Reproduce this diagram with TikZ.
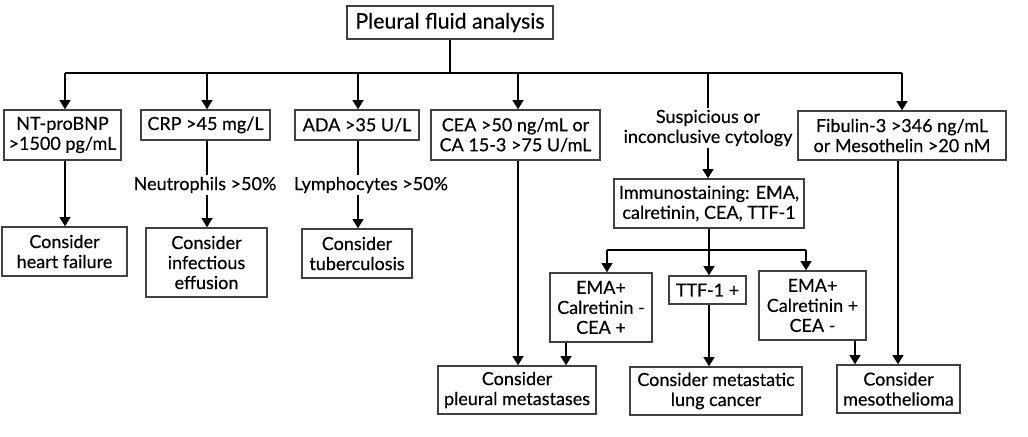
\documentclass[tikz,border=0pt]{standalone}
\usepackage{fontspec}
\setmainfont{Lato}[FakeBold=0.35]
\usetikzlibrary{arrows.meta}
\begin{document}
\begin{tikzpicture}[x=0.75pt,y=-0.75pt,
  box/.style={draw=black!75, line width=0.9pt, align=center, inner sep=0pt,
    font=\fontsize{13.5}{15}\selectfont, fill=white},
  plain/.style={align=center, inner sep=1pt, font=\fontsize{13.5}{15}\selectfont},
  conn/.style={line width=2.1pt, black},
  arr/.style={conn, -{Triangle[width=8pt,length=7pt]}}]
\useasboundingbox (0,0) rectangle (1028,436);
\fill[white] (0,0) rectangle (1028,436);
% top
\node[box, minimum width=154.5pt, minimum height=24.75pt, font=\fontsize{16}{18}\selectfont] (title) at (450,22.5) {Pleural fluid analysis};
% row 1
\node[box, minimum width=87.75pt, minimum height=37.5pt] (nt) at (62.5,135) {NT-proBNP\\>1500 pg/mL};
\node[box, minimum width=96.75pt, minimum height=22.5pt] (crp) at (205.5,125) {CRP >45 mg/L};
\node[box, minimum width=93pt, minimum height=22.5pt] (ada) at (357,125) {ADA >35 U/L};
\node[box, minimum width=126.75pt, minimum height=37.5pt] (cea) at (515.5,135) {CEA >50 ng/mL or\\CA 15-3 >75 U/mL};
\node[plain] (susp) at (708,128) {Suspicious or\\inconclusive cytology};
\node[box, minimum width=156pt, minimum height=36.75pt] (fib) at (902,135.5) {Fibulin-3 >346 ng/mL\\or Mesothelin >20 nM};
\node[box, minimum width=142.5pt, minimum height=36.75pt] (imm) at (709,203.5) {Immunostaining: EMA,\\calretinin, CEA, TTF-1};
% labels
\node[plain] (neu) at (205,185) {Neutrophils >50\%};
\node[plain] (lym) at (371,185) {Lymphocytes >50\%};
% row 2
\node[box, minimum width=93.75pt, minimum height=36.75pt] (hf) at (64.5,251.5) {Consider\\heart failure};
\node[box, minimum width=90.75pt, minimum height=51.75pt] (inf) at (206.5,262.5) {Consider\\infectious\\effusion};
\node[box, minimum width=82.5pt, minimum height=36.75pt] (tb) at (357,253.5) {Consider\\tuberculosis};
% immuno results
\node[box, minimum width=76.5pt, minimum height=51.75pt] (emam) at (601,307.5) {EMA+\\Calretinin -\\CEA +};
\node[box, minimum width=57.75pt, minimum height=21pt] (ttf) at (707.5,290) {TTF-1 +};
\node[box, minimum width=80.25pt, minimum height=51.75pt] (emap) at (812.5,305.5) {EMA+\\Calretinin +\\CEA -};
% bottom
\node[box, minimum width=118.5pt, minimum height=36pt] (pm) at (517,390) {Consider\\pleural metastases};
\node[box, minimum width=129pt, minimum height=36pt] (mlc) at (716,391) {Consider metastatic\\lung cancer};
\node[box, minimum width=92.25pt, minimum height=36pt] (meso) at (898.5,389) {Consider\\mesothelioma};
% coordinates
\coordinate (bL) at (65,73);
\coordinate (bR) at (902,73);
\coordinate (sL) at (607,250);
\coordinate (sR) at (806,250);
\coordinate (xnt) at (65,0);
\coordinate (xcrp) at (207,0);
\coordinate (xada) at (358,0);
\coordinate (xcea) at (518,0);
\coordinate (xsus) at (708,0);
\coordinate (ximm) at (709,0);
\coordinate (xem) at (566,0);
\coordinate (xep) at (855,0);
\coordinate (xfib) at (898,0);
% connectors
\draw[conn] (title.south) -- (title.south |- bL);
\draw[conn] (bL) -- (bR);
\draw[arr] (bL) -- (nt.north -| xnt);
\draw[arr] (bL -| xcrp) -- (crp.north -| xcrp);
\draw[arr] (bL -| xada) -- (ada.north -| xada);
\draw[arr] (bL -| xcea) -- (cea.north -| xcea);
\draw[conn] (bL -| xsus) -- (susp.north -| xsus);
\draw[arr] (bR) -- (fib.north -| bR);
\draw[arr] (susp.south -| xsus) -- (imm.north -| xsus);
\draw[arr] (nt.south -| xnt) -- (hf.north -| xnt);
\draw[conn] (crp.south -| xcrp) -- (neu.north -| xcrp);
\draw[arr] (neu.south -| xcrp) -- (inf.north -| xcrp);
\draw[conn] (ada.south -| xada) -- (lym.north -| xada);
\draw[arr] (lym.south -| xada) -- (tb.north -| xada);
\draw[conn] (imm.south -| ximm) -- (sL -| ximm);
\draw[conn] (sL) -- (sR);
\draw[arr] (sL) -- (emam.north -| sL);
\draw[arr] (sL -| ximm) -- (ttf.north -| ximm);
\draw[arr] (sR) -- (emap.north -| sR);
\draw[arr] (cea.south -| xcea) -- (pm.north -| xcea);
\draw[arr] (emam.south -| xem) -- (pm.north -| xem);
\draw[arr] (ttf.south -| ximm) -- (mlc.north -| ximm);
\draw[arr] (emap.south -| xep) -- (meso.north -| xep);
\draw[arr] (fib.south -| xfib) -- (meso.north -| xfib);
\end{tikzpicture}
\end{document}
